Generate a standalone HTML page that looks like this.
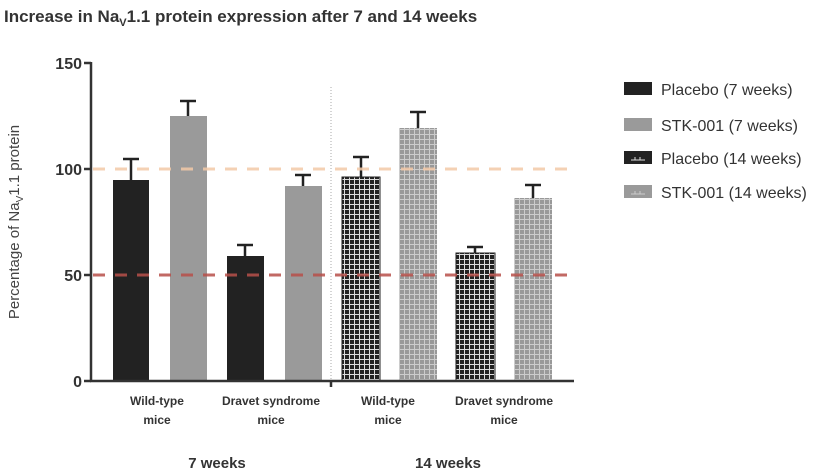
<!DOCTYPE html>
<html><head><style>
body{margin:0;background:#fff;}
svg{display:block;font-family:"Liberation Sans",sans-serif;}
</style></head><body>
<svg width="834" height="475" viewBox="0 0 834 475" xmlns="http://www.w3.org/2000/svg">
<defs>
<pattern id="pb" width="5" height="5" patternUnits="userSpaceOnUse">
<rect width="5" height="5" fill="#222"/><rect x="4" width="1" height="5" fill="#ddd"/><rect y="4" width="5" height="1" fill="#ddd"/>
</pattern>
<pattern id="pg" width="5" height="5" patternUnits="userSpaceOnUse">
<rect width="5" height="5" fill="#999"/><rect x="4" width="1" height="5" fill="#ccc"/><rect y="4" width="5" height="1" fill="#ccc"/>
</pattern>
</defs>
<text x="4" y="22" font-size="17" font-weight="bold" fill="#333">Increase in Na<tspan font-size="11" dy="4">V</tspan><tspan dy="-4">1.1 protein expression after 7 and 14 weeks</tspan></text>
<line x1="331" y1="87" x2="331" y2="381" stroke="#aaa" stroke-width="1" stroke-dasharray="1,2"/>
<g stroke="#222" stroke-width="2.5">
<line x1="131" y1="180" x2="131" y2="159"/><line x1="123" y1="159" x2="139" y2="159"/>
<line x1="188" y1="116" x2="188" y2="101"/><line x1="180" y1="101" x2="196" y2="101"/>
<line x1="245" y1="256" x2="245" y2="245"/><line x1="237" y1="245" x2="253" y2="245"/>
<line x1="303" y1="186" x2="303" y2="175"/><line x1="295" y1="175" x2="311" y2="175"/>
<line x1="361" y1="177" x2="361" y2="157"/><line x1="353" y1="157" x2="369" y2="157"/>
<line x1="418" y1="128" x2="418" y2="112"/><line x1="410" y1="112" x2="426" y2="112"/>
<line x1="475" y1="253" x2="475" y2="247"/><line x1="467" y1="247" x2="483" y2="247"/>
<line x1="533" y1="198" x2="533" y2="185"/><line x1="525" y1="185" x2="541" y2="185"/>
</g>
<rect x="113" y="180" width="36" height="201" fill="#222"/>
<rect x="170" y="116" width="37" height="265" fill="#9a9a9a"/>
<rect x="227" y="256" width="37" height="125" fill="#222"/>
<rect x="285" y="186" width="37" height="195" fill="#9a9a9a"/>
<rect x="342" y="177" width="38" height="204" fill="url(#pb)" stroke="#222" stroke-width="1"/>
<rect x="399" y="128" width="38" height="253" fill="url(#pg)"/>
<rect x="456" y="253" width="39" height="128" fill="url(#pb)" stroke="#222" stroke-width="1"/>
<rect x="514" y="198" width="38" height="183" fill="url(#pg)"/>
<line x1="93" y1="169" x2="575" y2="169" stroke="#f3c9a8" stroke-width="3" stroke-dasharray="12,10" opacity="0.85"/>
<line x1="93" y1="275" x2="575" y2="275" stroke="#b8504a" stroke-width="3" stroke-dasharray="12,10" opacity="0.85"/>
<g stroke="#333" stroke-width="2.5">
<line x1="91" y1="62" x2="91" y2="382"/>
<line x1="90" y1="381" x2="574" y2="381"/>
<line x1="84" y1="63" x2="91" y2="63"/><line x1="84" y1="169" x2="91" y2="169"/>
<line x1="84" y1="275" x2="91" y2="275"/><line x1="84" y1="381" x2="91" y2="381"/>
<line x1="331" y1="381" x2="331" y2="387"/>
</g>
<g font-size="16" fill="#333" text-anchor="end" font-weight="bold">
<text x="82" y="69">150</text><text x="82" y="175">100</text><text x="82" y="281">50</text><text x="82" y="387">0</text>
</g>
<text transform="translate(19,222) rotate(-90)" font-size="15" fill="#444" text-anchor="middle">Percentage of Na<tspan font-size="10" dy="4">V</tspan><tspan dy="-4">1.1 protein</tspan></text>
<g font-size="12" fill="#333" text-anchor="middle" font-weight="bold">
<text x="157" y="405">Wild-type</text><text x="157" y="424">mice</text>
<text x="271" y="405">Dravet syndrome</text><text x="271" y="424">mice</text>
<text x="388" y="405">Wild-type</text><text x="388" y="424">mice</text>
<text x="504" y="405">Dravet syndrome</text><text x="504" y="424">mice</text>
</g>
<g font-size="15" fill="#333" text-anchor="middle" font-weight="bold">
<text x="217" y="468">7 weeks</text><text x="448" y="468">14 weeks</text>
</g>
<rect x="624" y="82" width="28" height="13" fill="#222"/>
<rect x="624" y="118" width="28" height="13" fill="#9a9a9a"/>
<rect x="624" y="151" width="28" height="13" fill="#222"/>
<path d="M631 160 H645 M635 157 V160 M640 157 V160" stroke="#ddd" stroke-width="1"/>
<rect x="624" y="185" width="28" height="13" fill="#9a9a9a"/>
<path d="M631 194 H645 M635 191 V194 M640 191 V194" stroke="#ccc" stroke-width="1"/>
<g font-size="16" fill="#333">
<text x="661" y="95">Placebo (7 weeks)</text>
<text x="661" y="131">STK-001 (7 weeks)</text>
<text x="661" y="164">Placebo (14 weeks)</text>
<text x="661" y="198">STK-001 (14 weeks)</text>
</g>
</svg>
</body></html>
